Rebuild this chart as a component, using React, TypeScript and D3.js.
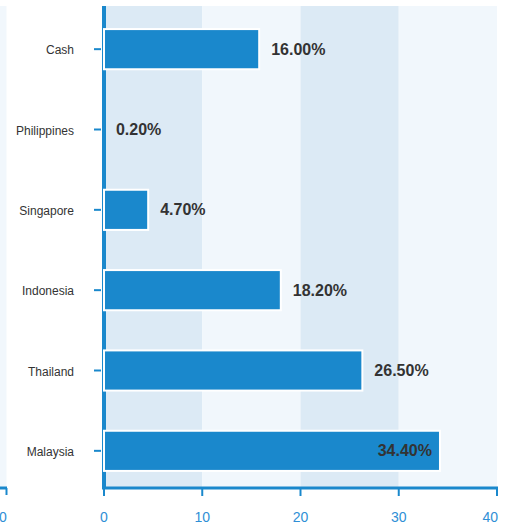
import * as d3 from "d3";
import { useEffect, useRef } from "react";

/* Data ------------------------------------------------------------- */

const categories = ["Cash", "Philippines", "Singapore", "Indonesia", "Thailand", "Malaysia"];
const values = [16.0, 0.2, 4.7, 18.2, 26.5, 34.4];
const xTicks = [0, 10, 20, 30, 40];

/* Theme ------------------------------------------------------------ */

const BLUE = "#1a88cc";
const BAND_DARK = "#dceaf5";
const BAND_LIGHT = "#f1f7fc";
const TEXT = "#333333";
const TICK_TEXT = "#2f8fd6";
const FONT = "'Liberation Sans', Arial, sans-serif";

const W = 507;
const H = 527;

export default function App() {
  const svgRef = useRef<SVGSVGElement>(null);

  useEffect(() => {
    const svg = d3.select(svgRef.current);
    svg.selectAll("*").remove();

    const left = 104;
    const right = 497;
    const top = 6;
    const bottom = 488;

    const x = d3.scaleLinear().domain([0, 40]).range([left, right]);
    const y = d3
      .scaleBand<string>()
      .domain(categories)
      .range([top + 3, bottom + 3])
      .paddingInner(0.5)
      .paddingOuter(0.25);

    /* faded left panel */
    svg
      .append("rect")
      .attr("x", 0)
      .attr("y", top)
      .attr("width", 6.5)
      .attr("height", bottom - top)
      .attr("fill", BAND_LIGHT);
    svg
      .append("line")
      .attr("x1", 0)
      .attr("x2", 7)
      .attr("y1", bottom)
      .attr("y2", bottom)
      .attr("stroke", BLUE)
      .attr("stroke-width", 3);
    svg
      .append("line")
      .attr("x1", 6.5)
      .attr("x2", 6.5)
      .attr("y1", bottom)
      .attr("y2", bottom + 7)
      .attr("stroke", BLUE)
      .attr("stroke-width", 2);
    svg
      .append("text")
      .attr("x", 3)
      .attr("y", bottom + 34)
      .attr("text-anchor", "middle")
      .attr("fill", TICK_TEXT)
      .attr("font-family", FONT)
      .attr("font-size", 14)
      .text("0");

    /* alternating bands */
    d3.range(xTicks.length - 1).forEach((i) => {
      svg
        .append("rect")
        .attr("x", x(xTicks[i]))
        .attr("y", top)
        .attr("width", x(xTicks[i + 1]) - x(xTicks[i]))
        .attr("height", bottom - top)
        .attr("fill", i % 2 === 0 ? BAND_DARK : BAND_LIGHT);
    });

    /* y axis line */
    svg
      .append("line")
      .attr("x1", x(0))
      .attr("x2", x(0))
      .attr("y1", top)
      .attr("y2", bottom)
      .attr("stroke", BLUE)
      .attr("stroke-width", 4);

    /* y ticks + labels */
    categories.forEach((c) => {
      const cy = (y(c) ?? 0) + y.bandwidth() / 2;
      svg
        .append("line")
        .attr("x1", 94)
        .attr("x2", 101)
        .attr("y1", cy)
        .attr("y2", cy)
        .attr("stroke", BLUE)
        .attr("stroke-width", 2);
      svg
        .append("text")
        .attr("x", 74)
        .attr("y", cy + 1)
        .attr("dy", "0.35em")
        .attr("text-anchor", "end")
        .attr("fill", TEXT)
        .attr("font-family", FONT)
        .attr("font-size", 12)
        .text(c);
    });

    /* bars */
    categories.forEach((c, i) => {
      const v = values[i];
      const by = y(c) ?? 0;
      svg
        .append("rect")
        .attr("x", x(0))
        .attr("y", by)
        .attr("width", x(v) - x(0) - 2)
        .attr("height", y.bandwidth())
        .attr("fill", BLUE)
        .attr("stroke", "#ffffff")
        .attr("stroke-width", 2);

      const inside = v > 30;
      svg
        .append("text")
        .attr("x", inside ? x(v) - 10 : x(v) + 10)
        .attr("y", by + y.bandwidth() / 2)
        .attr("dy", "0.35em")
        .attr("text-anchor", inside ? "end" : "start")
        .attr("fill", TEXT)
        .attr("font-family", FONT)
        .attr("font-size", 16)
        .attr("font-weight", "bold")
        .text(`${v.toFixed(2)}%`);
    });

    /* x axis */
    svg
      .append("line")
      .attr("x1", x(0) - 2)
      .attr("x2", x(40) + 1)
      .attr("y1", bottom)
      .attr("y2", bottom)
      .attr("stroke", BLUE)
      .attr("stroke-width", 3);
    xTicks.forEach((t, i) => {
      const last = i === xTicks.length - 1;
      svg
        .append("line")
        .attr("x1", x(t))
        .attr("x2", x(t))
        .attr("y1", bottom)
        .attr("y2", bottom + 8)
        .attr("stroke", BLUE)
        .attr("stroke-width", 2);
      svg
        .append("text")
        .attr("x", last ? x(t) + 1 : x(t))
        .attr("y", bottom + 34)
        .attr("text-anchor", last ? "end" : "middle")
        .attr("fill", TICK_TEXT)
        .attr("font-family", FONT)
        .attr("font-size", 14)
        .text(String(t));
    });
  }, []);

  return (
    <svg
      ref={svgRef}
      width={W}
      height={H}
      style={{ position: "absolute", left: 0, top: 0, display: "block", background: "#ffffff" }}
    />
  );
}
